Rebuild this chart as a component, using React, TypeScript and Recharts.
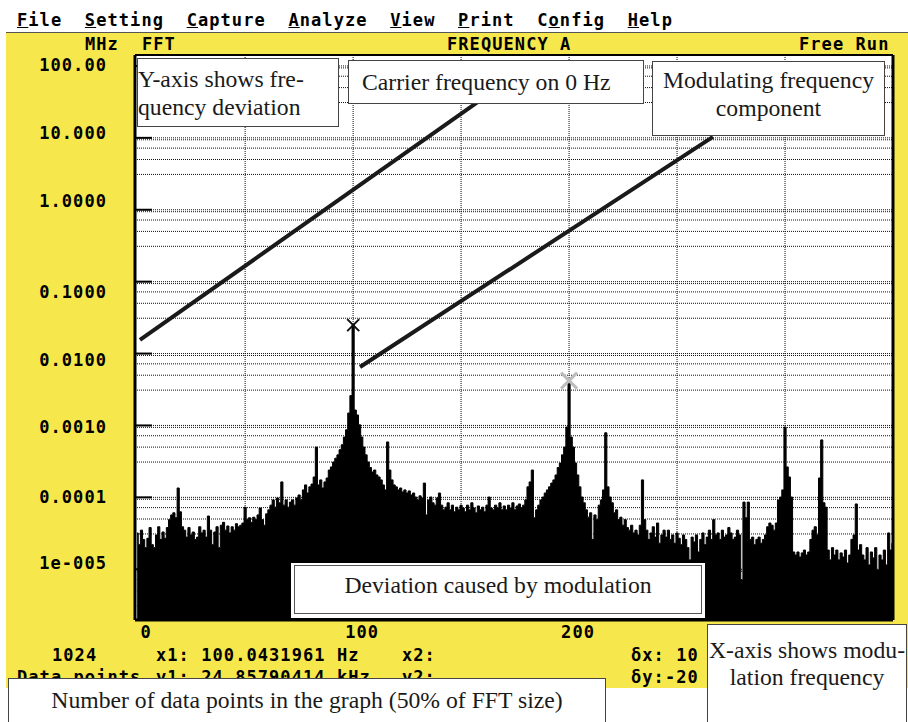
import React from 'react';
import { AreaChart, Area, XAxis, YAxis, CartesianGrid, ReferenceLine, ReferenceDot } from 'recharts';

// FFT of the frequency deviation, one value per Hz, in MHz
const spectrum0to49 = [
  3.2e-5, 2.2e-5, 3.5e-5, 2.6e-5, 2.0e-5, 2.7e-5, 3.8e-5, 2.2e-5, 2.0e-5, 3.0e-5,
  3.9e-5, 2.6e-5, 3.3e-5, 2.7e-5, 3.8e-5, 4.9e-5, 5.7e-5, 6.1e-5, 5.2e-5, 1.35e-4,
  6.3e-5, 3.9e-5, 3.5e-5, 2.8e-5, 3.8e-5, 3.0e-5, 3.3e-5, 2.6e-5, 2.8e-5, 3.9e-5,
  3.2e-5, 3.5e-5, 2.8e-5, 5.5e-5, 3.5e-5, 2.2e-5, 3.3e-5, 3.9e-5, 2.0e-5, 4.1e-5,
  4.5e-5, 3.5e-5, 4.0e-5, 3.2e-5, 3.9e-5, 3.5e-5, 4.3e-5, 3.9e-5, 4.1e-5, 4.4e-5,
];
const spectrum50to99 = [
  7.3e-5, 4.9e-5, 5.2e-5, 4.5e-5, 5.3e-5, 4.9e-5, 5.7e-5, 7.1e-5, 4.9e-5, 4.1e-5,
  5.9e-5, 6.7e-5, 7.8e-5, 9.2e-5, 7.3e-5, 9.8e-5, 8.4e-5, 1.64e-4, 7.8e-5, 9.2e-5,
  7.3e-5, 8.6e-5, 9.2e-5, 7.8e-5, 9.8e-5, 1.08e-4, 9.2e-5, 1.27e-4, 1.49e-4, 1.15e-4,
  1.4e-4, 1.53e-4, 1.92e-4, 5.0e-4, 1.49e-4, 1.75e-4, 1.35e-4, 1.64e-4, 1.86e-4, 2.4e-4,
  2.65e-4, 3.1e-4, 3.5e-4, 3.9e-4, 4.6e-4, 5.4e-4, 6.9e-4, 8.7e-4, 1.49e-3, 2.6e-3,
];
const spectrum100to149 = [
  0.02486, 1.64e-3, 1.4e-3, 1.02e-3, 6.9e-4, 5.0e-4, 3.9e-4, 3.1e-4, 2.6e-4, 2.25e-4,
  2.4e-4, 2.05e-4, 1.92e-4, 1.75e-4, 1.49e-4, 1.27e-4, 5.9e-4, 2.4e-4, 1.75e-4, 1.49e-4,
  1.4e-4, 1.27e-4, 1.35e-4, 1.19e-4, 1.27e-4, 1.15e-4, 1.23e-4, 1.08e-4, 1.15e-4, 1.01e-4,
  9.2e-5, 1.05e-4, 9.8e-5, 1.58e-4, 5.7e-5, 9.2e-5, 1.01e-4, 8.4e-5, 7.8e-5, 9.8e-5,
  1.15e-4, 7.8e-5, 6.7e-5, 7.3e-5, 8.4e-5, 6.7e-5, 7.8e-5, 6.3e-5, 7.3e-5, 6.7e-5,
];
const spectrum150to199 = [
  7.8e-5, 7.1e-5, 6.3e-5, 7.8e-5, 6.7e-5, 8.4e-5, 7.1e-5, 6.1e-5, 7.6e-5, 6.7e-5,
  7.3e-5, 6.3e-5, 7.8e-5, 1.01e-4, 7.1e-5, 6.7e-5, 7.8e-5, 7.1e-5, 8.4e-5, 6.7e-5,
  7.6e-5, 6.7e-5, 7.8e-5, 7.1e-5, 8.4e-5, 6.7e-5, 7.6e-5, 8.1e-5, 7.1e-5, 7.8e-5,
  9.2e-5, 1.4e-4, 1.64e-4, 2.4e-4, 5.2e-5, 6.7e-5, 7.8e-5, 9.2e-5, 1.01e-4, 1.15e-4,
  1.27e-4, 1.4e-4, 1.58e-4, 1.75e-4, 2.05e-4, 2.6e-4, 3.0e-4, 3.9e-4, 5.0e-4, 9.5e-4,
];
const spectrum200to249 = [
  3.9e-3, 6.9e-4, 5.0e-4, 3.0e-4, 2.05e-4, 1.4e-4, 1.01e-4, 8.4e-5, 6.7e-5, 5.3e-5,
  6.1e-5, 2.6e-5, 5.7e-5, 4.9e-5, 7.8e-5, 9.2e-5, 1.27e-4, 7.9e-4, 1.4e-4, 1.01e-4,
  8.4e-5, 6.1e-5, 6.7e-5, 4.9e-5, 5.3e-5, 4.1e-5, 4.9e-5, 3.8e-5, 3.5e-5, 4.1e-5,
  3.2e-5, 3.5e-5, 3.0e-5, 4.1e-5, 1.75e-4, 4.9e-5, 3.5e-5, 2.6e-5, 3.2e-5, 3.9e-5,
  2.8e-5, 4.4e-5, 2.3e-5, 3.0e-5, 3.5e-5, 2.8e-5, 3.5e-5, 2.6e-5, 3.0e-5, 2.3e-5,
];
const spectrum250to299 = [
  3.2e-5, 2.7e-5, 2.2e-5, 3.0e-5, 2.6e-5, 2.0e-5, 1.35e-5, 2.8e-5, 2.4e-5, 3.0e-5,
  1.74e-5, 2.6e-5, 3.2e-5, 2.2e-5, 2.8e-5, 3.5e-5, 2.6e-5, 4.9e-5, 3.0e-5, 3.2e-5,
  2.6e-5, 3.5e-5, 2.8e-5, 3.0e-5, 3.8e-5, 3.2e-5, 2.6e-5, 2.8e-5, 3.5e-5, 3.0e-5,
  7.1e-6, 8.6e-5, 5.2e-5, 8.6e-5, 2.6e-5, 2.8e-5, 2.2e-5, 2.6e-5, 2.8e-5, 2.3e-5,
  2.6e-5, 3.0e-5, 3.9e-5, 4.4e-5, 4.1e-5, 3.5e-5, 4.4e-5, 9.2e-5, 1.01e-4, 1.27e-4,
];
const spectrum300to350 = [
  9.5e-4, 2.65e-4, 1.92e-4, 1.01e-4, 1.74e-5, 1.58e-5, 1.74e-5, 1.48e-5, 1.69e-5, 1.85e-5,
  1.58e-5, 1.74e-5, 2.6e-5, 3.5e-5, 3.9e-5, 3.0e-5, 1.86e-4, 6.3e-4, 8.4e-5, 7.3e-5,
  1.85e-5, 1.35e-5, 2.0e-5, 1.58e-5, 1.85e-5, 1.35e-5, 1.69e-5, 1.48e-5, 1.85e-5, 1.22e-5,
  1.58e-5, 2.6e-5, 3.0e-5, 8.1e-5, 1.85e-5, 2.2e-5, 1.58e-5, 1.35e-5, 2.0e-5, 1.15e-5,
  1.74e-5, 1.44e-5, 2.0e-5, 9.8e-6, 1.58e-5, 1.35e-5, 1.85e-5, 1.15e-5, 3.2e-5, 1.85e-5,
  2.3e-5,
];

const yTicks = [1e-5, 1e-4, 1e-3, 1e-2, 1e-1, 1, 10, 100];
const yTickLabels = ['1e-005', '0.0001', '0.0010', '0.0100', '0.1000', '1.0000', '10.000', '100.00'];
const xTicks = [0, 100, 200];
const gridHz = [50, 100, 150, 200, 250, 300];
const gridDecades = [1e-5, 1e-4, 1e-3, 1e-2, 1e-1, 1, 10, 100];
const gridSteps = [1, 0.94, 0.72, 0.5, 0.31];

// cursor readout
const dataPoints = 1024;
const cursor1 = { hz: 100.0431961, mhz: 0.02485790414 };
const cursor2 = { hz: 200, mhz: 0.0042 };

const menuItems = ['File', 'Setting', 'Capture', 'Analyze', 'View', 'Print', 'Config', 'Help'];
const menuHotkeys = [0, 0, 0, 0, 0, 0, 1, 0];

const spectrum = [
  ...spectrum0to49, ...spectrum50to99, ...spectrum100to149, ...spectrum150to199,
  ...spectrum200to249, ...spectrum250to299, ...spectrum300to350,
].map((mhz, hz) => ({ hz, mhz }));

const gridLevels = gridDecades.flatMap((d) => gridSteps.map((s) => d * s));

const Y_TOP = 142;
const Y_BOTTOM = 1.97e-6;
// the DOS screen puts labels on its text rows, not exactly on the gridline
const yLabelNudge = [-6, 0, 1.5, 6, 10, -9, -5, -1];

const YELLOW = '#F6E84C';
const MONO = '"DejaVu Sans Mono", monospace';
const SERIF = '"Liberation Serif", "Times New Roman", serif';

const mono: React.CSSProperties = {
  position: 'absolute',
  fontFamily: MONO,
  fontWeight: 700,
  fontSize: 17,
  letterSpacing: '1.07px',
  lineHeight: '20px',
  whiteSpace: 'pre',
  color: '#000',
};

const note: React.CSSProperties = {
  position: 'absolute',
  boxSizing: 'border-box',
  background: '#fff',
  border: '1px solid #444',
  fontFamily: SERIF,
  fontSize: 23.7,
  lineHeight: '28px',
  color: '#1a1a1a',
  whiteSpace: 'nowrap',
};

const YTick = (props: any) => {
  const { x, y, payload } = props;
  const i = yTicks.indexOf(payload.value);
  return (
    <g>
      <line x1={x + 28} x2={x + 45} y1={y} y2={y} stroke="#000" strokeWidth={2} />
      <text
        x={x}
        y={y + (yLabelNudge[i] || 0)}
        textAnchor="end"
        dominantBaseline="central"
        fontFamily={MONO}
        fontWeight={700}
        fontSize={17}
        letterSpacing={1.07}
        fill="#000"
      >
        {yTickLabels[i]}
      </text>
    </g>
  );
};

const XTick = (props: any) => {
  const { x, y, payload } = props;
  return (
    <text
      x={x + 9}
      y={y + 12}
      textAnchor="middle"
      dominantBaseline="central"
      fontFamily={MONO}
      fontWeight={700}
      fontSize={17}
      letterSpacing={1.07}
      fill="#000"
    >
      {payload.value}
    </text>
  );
};

const crossMark = (color: string, half: number, width: number) => (props: any) => {
  const { cx, cy } = props;
  return (
    <g>
      <line x1={cx - half} y1={cy - half} x2={cx + half} y2={cy + half} stroke={color} strokeWidth={width} />
      <line x1={cx - half} y1={cy + half} x2={cx + half} y2={cy - half} stroke={color} strokeWidth={width} />
    </g>
  );
};

const App = () => {
  return (
    <div style={{ position: 'absolute', left: 0, top: 0, width: 908, height: 722, background: '#fff', overflow: 'hidden' }}>
      <div style={{ position: 'absolute', left: 6, top: 33, width: 902, height: 655, background: YELLOW }} />
      <div style={{ position: 'absolute', left: 6, top: 32, width: 902, height: 1, background: '#555' }} />

      <div style={{ ...mono, left: 17, top: 10 }}>
        {menuItems.map((item, i) => {
          const k = menuHotkeys[i];
          return (
            <span key={item}>
              {item.slice(0, k)}
              <span style={{ textDecoration: 'underline' }}>{item[k]}</span>
              {item.slice(k + 1)}
              {i < menuItems.length - 1 ? '  ' : ''}
            </span>
          );
        })}
      </div>

      <div style={{ ...mono, left: 85, top: 33.5 }}>MHz</div>
      <div style={{ ...mono, left: 142, top: 33.5 }}>FFT</div>
      <div style={{ ...mono, left: 447, top: 33.5 }}>FREQUENCY A</div>
      <div style={{ ...mono, left: 799, top: 33.5 }}>Free Run</div>

      <div style={{ position: 'absolute', left: 0, top: 0 }}>
        <AreaChart width={908} height={722} data={spectrum} margin={{ top: 55, right: 15, bottom: 72, left: 0 }}>
          <CartesianGrid
            fill="#fff"
            fillOpacity={1}
            stroke="#111"
            strokeDasharray="1 1"
            horizontalValues={gridLevels}
            verticalValues={gridHz}
          />
          <XAxis
            type="number"
            dataKey="hz"
            domain={[-1, 350]}
            ticks={xTicks}
            interval={0}
            allowDataOverflow
            height={30}
            tickSize={0}
            tickMargin={0}
            tickLine={false}
            tick={(p: any) => <XTick {...p} />}
            axisLine={{ stroke: '#000', strokeWidth: 3 }}
          />
          <YAxis
            scale="log"
            domain={[Y_BOTTOM, Y_TOP]}
            ticks={yTicks}
            interval={0}
            allowDataOverflow
            width={135}
            tickSize={0}
            tickMargin={28}
            tickLine={false}
            tick={(p: any) => <YTick {...p} />}
            axisLine={{ stroke: '#000', strokeWidth: 3 }}
          />
          <Area
            type="step"
            dataKey="mhz"
            stroke="#000"
            strokeWidth={1}
            fill="#000"
            fillOpacity={1}
            baseValue="dataMin"
            dot={false}
            activeDot={false}
            isAnimationActive={false}
          />
          <ReferenceLine y={Y_TOP} stroke="#000" strokeWidth={2} />
          <ReferenceLine x={350} stroke="#000" strokeWidth={3} />
          <ReferenceLine
            segment={[{ x: 1.3, y: 0.0155 }, { x: 157.8, y: 31.6 }]}
            stroke="#1a1a1a"
            strokeWidth={4}
            ifOverflow="visible"
          />
          <ReferenceLine
            segment={[{ x: 103.2, y: 0.0065 }, { x: 266.6, y: 10.3 }]}
            stroke="#1a1a1a"
            strokeWidth={4}
            ifOverflow="visible"
          />
          <ReferenceDot x={cursor1.hz} y={cursor1.mhz} shape={crossMark('#111', 6, 2)} />
          <ReferenceDot x={cursor2.hz} y={cursor2.mhz} shape={crossMark('#bdbdbd', 8, 3)} />
        </AreaChart>
      </div>

      <div style={{ ...mono, left: 52, top: 645 }}>{String(dataPoints)}</div>
      <div style={{ ...mono, left: 156, top: 645 }}>{`x1: ${cursor1.hz} Hz`}</div>
      <div style={{ ...mono, left: 402, top: 645 }}>x2:</div>
      <div style={{ ...mono, left: 631, top: 645 }}>δx: 10</div>
      <div style={{ ...mono, left: 17, top: 667 }}>Data points</div>
      <div style={{ ...mono, left: 156, top: 667 }}>{`y1: ${(cursor1.mhz * 1000).toFixed(8)} kHz`}</div>
      <div style={{ ...mono, left: 402, top: 667 }}>y2:</div>
      <div style={{ ...mono, left: 631, top: 667 }}>δy:-20</div>

      <div style={{ ...note, left: 137, top: 58, width: 202, height: 69, paddingTop: 6 }}>
        Y-axis shows fre-
        <br />
        quency deviation
      </div>
      <div style={{ ...note, left: 348, top: 60, width: 296, height: 44, display: 'flex', alignItems: 'center', paddingLeft: 13 }}>
        Carrier frequency on 0 Hz
      </div>
      <div style={{ ...note, left: 652, top: 61, width: 233, height: 75, paddingTop: 4, textAlign: 'center' }}>
        Modulating frequency
        <br />
        component
      </div>
      <div style={{ position: 'absolute', left: 291, top: 563, width: 414, height: 55, background: '#fff' }}>
        <div style={{ ...note, left: 3, top: 2, width: 408, height: 49, paddingTop: 5, textAlign: 'center', border: '1px solid #555' }}>
          Deviation caused by modulation
        </div>
      </div>
      <div style={{ ...note, left: 8, top: 678, width: 598, height: 50, paddingTop: 7, textAlign: 'center' }}>
        Number of data points in the graph (50% of FFT size)
      </div>
      <div style={{ ...note, left: 707, top: 624, width: 200, height: 104, paddingTop: 12, lineHeight: '27px', textAlign: 'center' }}>
        X-axis shows modu-
        <br />
        lation frequency
      </div>
    </div>
  );
};

export default App;
